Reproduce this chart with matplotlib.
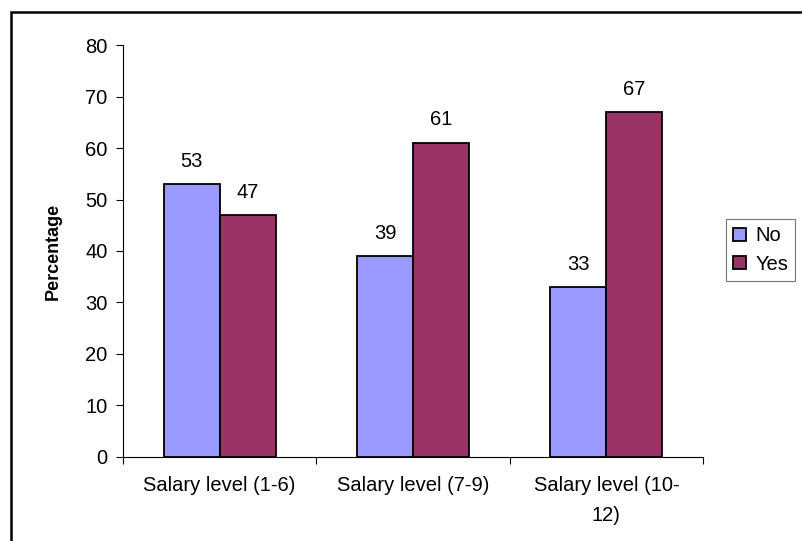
import matplotlib.pyplot as plt
import matplotlib.patches as patches
import numpy as np

plt.rcParams['font.family'] = ['Liberation Sans', 'DejaVu Sans']

categories = ["Salary level (1-6)", "Salary level (7-9)", "Salary level (10-\n12)"]
no_values = [53, 39, 33]
yes_values = [47, 61, 67]
y_ticks = [0, 10, 20, 30, 40, 50, 60, 70, 80]

fs = 14.5

fig = plt.figure(figsize=(8.03, 5.41), dpi=100)
ax = fig.add_axes([0.1532, 0.1553, 0.7223, 0.7615])

x = np.arange(len(categories))
width = 0.29
bars_no = ax.bar(x - width / 2, no_values, width, color="#9999FF",
                 edgecolor="black", linewidth=1.3, label="No")
bars_yes = ax.bar(x + width / 2, yes_values, width, color="#993366",
                  edgecolor="black", linewidth=1.3, label="Yes")

# value labels above each bar
for bars in (bars_no, bars_yes):
    for b in bars:
        ax.annotate(str(int(b.get_height())),
                    (b.get_x() + b.get_width() / 2, b.get_height()),
                    xytext=(0, 16.5), textcoords="offset points",
                    ha="center", va="center", fontsize=fs)

ax.set_xlim(-0.5, 2.5)
ax.set_ylim(0, 80)
ax.set_yticks(y_ticks)
ax.tick_params(axis="y", labelsize=fs, direction="out", length=5, width=0.8, pad=6)
ax.set_xticks(x)
ax.set_xticklabels(categories, fontsize=fs, linespacing=1.7)
ax.tick_params(axis="x", length=0, pad=14)
# group separator ticks
ax.set_xticks([-0.5, 0.5, 1.5, 2.5], minor=True)
ax.tick_params(axis="x", which="minor", direction="out", length=5, width=0.8)

for s in ("top", "right"):
    ax.spines[s].set_visible(False)
ax.spines["left"].set_linewidth(0.8)
ax.spines["bottom"].set_linewidth(0.8)

ax.set_ylabel("Percentage", fontsize=13, fontweight="bold", labelpad=17)

leg = ax.legend(loc="center left", bbox_to_anchor=(726 / 803, 1 - 250 / 541),
                bbox_transform=fig.transFigure, fontsize=fs, frameon=True,
                fancybox=False, handlelength=0.65, handleheight=0.6,
                handletextpad=0.45, borderpad=0.35, labelspacing=0.45,
                borderaxespad=0)
leg.get_frame().set_edgecolor("#555555")
leg.get_frame().set_linewidth(0.8)

# outer chart frame
fig.patches.append(patches.Rectangle((11 / 803, -0.1), 1.2, 1.1 - 12 / 541,
                                     transform=fig.transFigure, fill=False,
                                     edgecolor="black", linewidth=1.8))

fig.savefig("out.png", dpi=100)
